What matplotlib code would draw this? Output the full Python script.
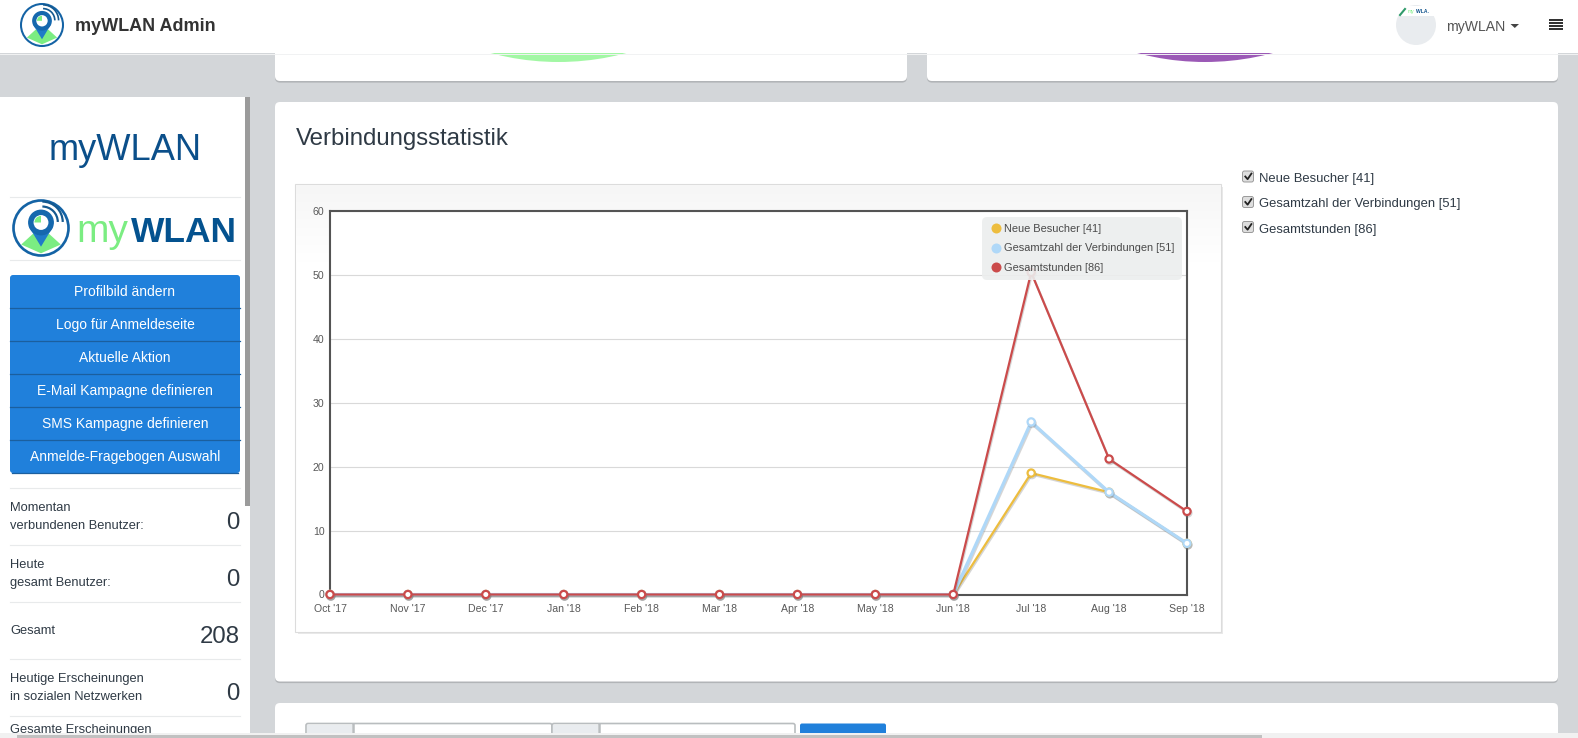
import numpy as np
import matplotlib
matplotlib.use("Agg")
import matplotlib.pyplot as plt
import matplotlib.patheffects as pe
from matplotlib.colors import LinearSegmentedColormap
from matplotlib.lines import Line2D
from matplotlib.patches import Circle, FancyBboxPatch, Polygon, Rectangle, Wedge

plt.rcParams['font.family'] = ['Liberation Sans', 'DejaVu Sans']

months = ["Oct '17", "Nov '17", "Dec '17", "Jan '18", "Feb '18", "Mar '18",
          "Apr '18", "May '18", "Jun '18", "Jul '18", "Aug '18", "Sep '18"]
neue_besucher = [0, 0, 0, 0, 0, 0, 0, 0, 0, 19, 16, 8]
verbindungen = [0, 0, 0, 0, 0, 0, 0, 0, 0, 27, 16, 8]
gesamtstunden = [0, 0, 0, 0, 0, 0, 0, 0, 0, 50.4, 21.2, 13]
series_labels = ["Neue Besucher [41]", "Gesamtzahl der Verbindungen [51]", "Gesamtstunden [86]"]
series_colors = ["#edbd3e", "#afd8f8", "#cb4b4b"]
y_ticks = [0, 10, 20, 30, 40, 50, 60]

menu_items = ["Profilbild ändern", "Logo für Anmeldeseite", "Aktuelle Aktion",
              "E-Mail Kampagne definieren", "SMS Kampagne definieren",
              "Anmelde-Fragebogen Auswahl"]
stat_lines = [(("Momentan", 508), ("verbundenen Benutzer:", 526)),
              (("Heute", 565), ("gesamt Benutzer:", 583)),
              (("Gesamt", 631),),
              (("Heutige Erscheinungen", 679), ("in sozialen Netzwerken", 697)),
              (("Gesamte Erscheinungen", 730.5),)]
stat_values = [("0", 523), ("0", 580), ("208", 637), ("0", 694)]

W, H = 1578, 738
fig = plt.figure(figsize=(W / 100, H / 100), dpi=100)
page = fig.add_axes([0, 0, 1, 1], zorder=0)
page.set_axis_off()
BG = "#d3d6d9"
INK = "#2f3a45"
fig.patch.set_facecolor(BG)


def rect(x0, y0, x1, y1, color, z=1, **kw):
    page.add_patch(Rectangle((x0, y0), x1 - x0, y1 - y0, facecolor=color, edgecolor='none', zorder=z, **kw))


def card(x0, y0, x1, y1, z=1):
    page.add_patch(FancyBboxPatch((x0, y0 + 1.6), x1 - x0, y1 - y0, boxstyle="round,pad=0,rounding_size=5",
                                  facecolor="#b1b4b7", edgecolor='none', zorder=z))
    page.add_patch(FancyBboxPatch((x0, y0), x1 - x0, y1 - y0, boxstyle="round,pad=0,rounding_size=5",
                                  facecolor="white", edgecolor='none', zorder=z + 0.1))


def logo(cx, cy, r, z=6):
    page.add_patch(Circle((cx, cy), r, facecolor="white", edgecolor="#1463a5", lw=r * 0.07, zorder=z))
    page.add_patch(Polygon([(cx - 0.72 * r, cy + 0.6 * r), (cx - 0.28 * r, cy + 0.2 * r), (cx, cy + 0.5 * r),
                            (cx + 0.28 * r, cy + 0.2 * r), (cx + 0.72 * r, cy + 0.6 * r),
                            (cx, cy + 0.92 * r)], facecolor="#7bed82", edgecolor='none', zorder=z + 0.1))
    page.add_patch(Polygon([(cx - 0.44 * r, cy - 0.05 * r), (cx + 0.44 * r, cy - 0.05 * r), (cx, cy + 0.68 * r)],
                           facecolor="#1f7bc8", edgecolor='none', zorder=z + 0.2))
    page.add_patch(Circle((cx, cy - 0.2 * r), 0.47 * r, facecolor="#1568ae", edgecolor='none', zorder=z + 0.2))
    page.add_patch(Circle((cx, cy - 0.2 * r), 0.27 * r, facecolor="white", edgecolor='none', zorder=z + 0.3))
    page.add_patch(Wedge((cx, cy - 0.2 * r), 0.24 * r, 180, 270, facecolor="#7bed82", edgecolor='none', zorder=z + 0.4))
    for rad in (0.6, 0.78):
        page.add_patch(Wedge((cx + 0.05 * r, cy - 0.22 * r), rad * r, 270, 360, width=0.08 * r,
                             facecolor="#15598f", edgecolor='none', zorder=z + 0.3))


# page furniture
card(275, 30, 907, 81)
card(927, 30, 1558, 81)
page.add_patch(Circle((558.5, -199), 261, facecolor="#a2f7a4", edgecolor='none', zorder=2))
page.add_patch(Circle((1205, -199), 261, facecolor="#9b59b6", edgecolor='none', zorder=2))
rect(0, 0, W, 53, "white", z=5)
page.plot([0, W], [53.5, 53.5], color="#f1f2f3", lw=0.7, zorder=5.1)
card(275, 102, 1558, 681.5)
card(275, 703, 1558, 760)

# header
logo(42, 25, 21)
page.text(75, 26.5, "myWLAN Admin", fontsize=13, fontweight='bold', color="#333333", va='center', zorder=6)
page.add_patch(Circle((1416, 25), 20, facecolor="#e9ecef", edgecolor='none', zorder=6))
rect(1398, 6, 1434, 16, "white", z=6.1)
page.text(1408, 11.5, "my", fontsize=3.6, color="#7bed82", va='center', zorder=6.2)
page.text(1416, 11.5, "WLA.", fontsize=3.6, color="#0b4f8a", fontweight='bold', va='center', zorder=6.2)
page.plot([1400, 1405], [15, 9], color="#2f9a6a", lw=1.5, zorder=6.2)
page.text(1446, 26.5, "myWLAN", fontsize=10.1, color="#555555", va='center', zorder=6)
page.add_patch(Polygon([(1510.5, 24), (1519, 24), (1514.8, 28)], facecolor="#444444", edgecolor='none', zorder=6))
for y in (20, 23, 26, 29):
    rect(1549, y - 0.8, 1563, y + 0.8, "#333333", z=6)

# sidebar
rect(0, 97, 245, H, "white", z=1)
rect(245, 97, 250, 506, "#9b9b9b", z=1)
rect(245, 506, 250, H, "white", z=1)
page.text(125, 150, "myWLAN", fontsize=26.1, color="#0b4f8a", ha='center', va='center', zorder=2)
for y in (196.5, 259.5, 487.5, 544.5, 601.5, 658.5, 715.5):
    page.plot([10, 240], [y, y], color="#e8eaeb", lw=0.8, zorder=2)
logo(41, 228, 27.5, z=3)
page.text(76, 232, "my", fontsize=28, color="#7bed82", va='center', zorder=3)
page.text(131, 232, "WLAN", fontsize=25.5, color="#04528f", fontweight='bold', va='center', zorder=3)

page.add_patch(FancyBboxPatch((10, 275), 230, 198, boxstyle="round,pad=0,rounding_size=3",
                              facecolor="#2080db", edgecolor='none', zorder=2))
for y in (307.5, 340.5, 373.5, 406.5, 439.5):
    page.plot([10, 240], [y, y], color="#1b5f9e", lw=0.9, zorder=2.1)
page.plot([12, 238], [472.7, 472.7], color="#1b5f9e", lw=0.9, zorder=2.1)
for item, y in zip(menu_items, (292, 325, 358, 390.5, 424, 456.5)):
    page.text(125, y, item, fontsize=10.0, color="white", ha='center', va='center', zorder=3)

for block in stat_lines:
    for text, y in block:
        page.text(10, y, text, fontsize=9.3, color=INK, va='center', zorder=2)
for value, y in stat_values:
    page.text(240, y, value, fontsize=17.3, color=INK, ha='right', va='center', zorder=2)

# card heading and checkboxes
page.text(296, 139, "Verbindungsstatistik", fontsize=17.3, color=INK, va='center', zorder=3)
for label, y in zip(series_labels, (179, 204.5, 229.5)):
    page.add_patch(FancyBboxPatch((1242.5, y - 8), 11, 11, boxstyle="round,pad=0,rounding_size=2",
                                  facecolor="#dedede", edgecolor="#9a9a9a", lw=0.7, zorder=3))
    page.plot([1245.3, 1247.6, 1251.4], [y - 2.5, y + 0.2, y - 5.4], color="#222222", lw=1.3, zorder=3.1)
    page.text(1259.5, y, label, fontsize=9.4, color=INK, va='center', zorder=3)

# chart placeholder panel with gradient
page.add_patch(Rectangle((298, 187), 925, 447, facecolor="#e9e9e9", edgecolor='none', zorder=2))
page.add_patch(Rectangle((295.5, 184), 925.5, 448, facecolor="white", edgecolor="#dcdcdc", lw=0.8, zorder=2.1))
cmap = LinearSegmentedColormap.from_list("panel", ["#f6f6f6", "#ffffff"])
page.imshow(np.linspace(0, 1, 80)[:, None], cmap=cmap, aspect='auto', extent=(296, 1220.5, 262, 185), zorder=2.2)

# bottom form
for x0, x1 in ((306, 552), (552, 795)):
    page.add_patch(FancyBboxPatch((x0, 723.5), x1 - x0, 20, boxstyle="round,pad=0,rounding_size=2",
                                  facecolor="white", edgecolor="#b9bdbf", lw=1.2, zorder=2))
    rect(x0 + 1, 724.5, x0 + 46, H, "#e9ecef", z=2.1)
    page.plot([x0 + 47, x0 + 47], [724, H], color="#b9bdbf", lw=1.8, zorder=2.2)
page.add_patch(FancyBboxPatch((800, 723.5), 86, 20, boxstyle="round,pad=0,rounding_size=2",
                              facecolor="#2080db", edgecolor='none', zorder=2))
rect(0, 733, W, H, "#f1f1f1", z=8)
rect(17, 735, 1262, H, "#c1c1c1", z=8.1)

page.set_xlim(0, W)
page.set_ylim(H, 0)

# chart
ax = fig.add_axes([330 / W, 1 - 594.5 / H, 857 / W, 383.5 / H], zorder=3)
ax.set_facecolor("white")
for spine in ax.spines.values():
    spine.set_color("#545454")
    spine.set_linewidth(1.5)
ax.yaxis.grid(True, color="#d9d9d9", lw=0.8, zorder=0)
ax.set_axisbelow(True)

widths = [1.6, 2.3, 1.6]
for values, color, lw, label, z in zip((neue_besucher, verbindungen, gesamtstunden), series_colors, widths,
                                        series_labels, (3, 4, 5)):
    ax.plot(months, values, color=color, lw=lw, marker='o', ms=5.2, mfc='white', mec=color, mew=1.6,
            clip_on=False, zorder=z, label=label, solid_joinstyle='miter',
            path_effects=[pe.SimpleLineShadow(offset=(0.6, -1.1), shadow_color="#777777", alpha=0.3),
                          pe.Normal()])

ax.set_xlim(0, 11)
ax.set_ylim(0, 60)
ax.set_yticks(y_ticks)
ax.tick_params(axis='both', length=0, labelsize=7.6, labelcolor="#595959")
ax.tick_params(axis='x', pad=6.8)
ax.tick_params(axis='y', pad=4)

handles = [Line2D([], [], linestyle='none', marker='o', ms=7.2, mfc=c, mec='none') for c in series_colors]
legend = ax.legend(handles, series_labels, loc='upper right', bbox_to_anchor=(0.9936, 1 - 5.7 / 383.5),
                   borderaxespad=0, fontsize=7.9, labelcolor="#4a4a4a", frameon=True, facecolor="#eceeee",
                   edgecolor='none', framealpha=0.9, borderpad=0.62, labelspacing=0.9, handletextpad=0.15,
                   handlelength=1.3, fancybox=True)
legend.get_frame().set_boxstyle("round", pad=0, rounding_size=0.45)
legend.set_zorder(10)

fig.savefig("out.png", dpi=100, facecolor=BG)
